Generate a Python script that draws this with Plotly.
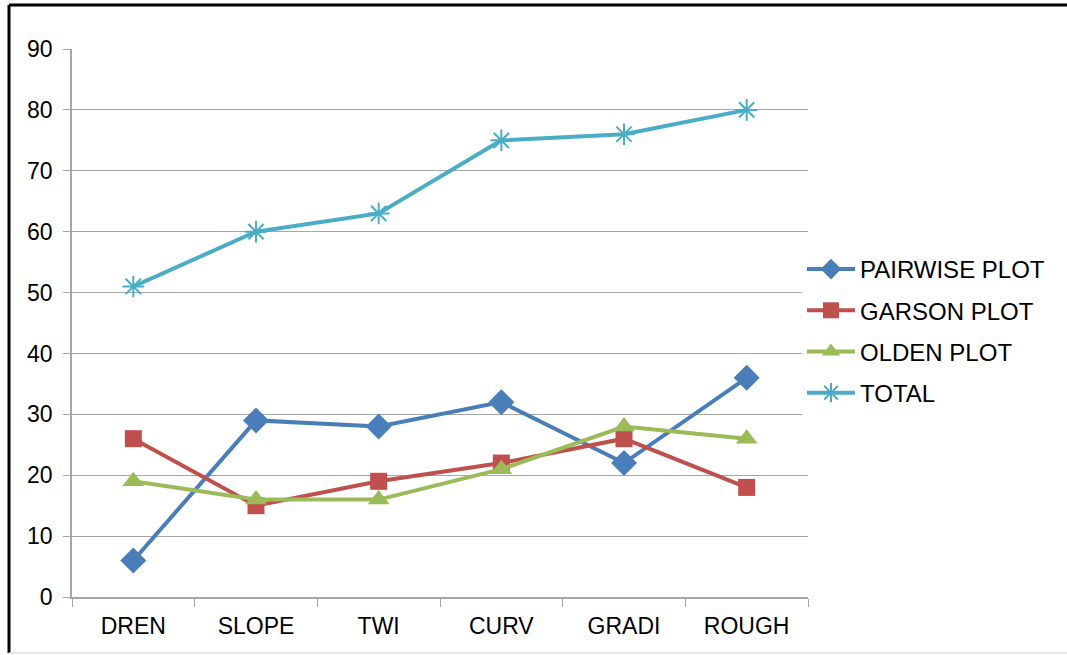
import plotly.graph_objects as go

# ---- data ----
categories = ["DREN", "SLOPE", "TWI", "CURV", "GRADI", "ROUGH"]
pairwise = [6, 29, 28, 32, 22, 36]
garson = [26, 15, 19, 22, 26, 18]
olden = [19, 16, 16, 21, 28, 26]
total = [51, 60, 63, 75, 76, 80]

series = [
    ("PAIRWISE PLOT", pairwise, "#4A7EBB", "diamond", 20),
    ("GARSON PLOT", garson, "#C0504D", "square", 17),
    ("OLDEN PLOT", olden, "#9BBB59", "triangle-up", 19),
    ("TOTAL", total, "#4BACC6", "asterisk-open", 18),
]

W, H = 1067, 655
L, R, T, B = 72, 808, 49, 597


def px2x(px):
    return (px - L) / (R - L)


def px2y(py):
    return (B - py) / (B - T)


fig = go.Figure()

for name, vals, color, symbol, size in series:
    marker = dict(symbol=symbol, size=size, color=color)
    if symbol == "asterisk-open":
        marker["line"] = dict(color=color, width=2)
    fig.add_trace(
        go.Scatter(
            x=categories,
            y=vals,
            mode="lines+markers",
            name=name,
            legendgroup=name,
            line=dict(color=color, width=4),
            marker=marker,
        )
    )

# ---- frame around the chart ----
shapes = [
    dict(type="line", xref="paper", yref="paper",
         x0=px2x(9), x1=px2x(W + 5), y0=px2y(5), y1=px2y(5),
         line=dict(color="black", width=3)),
    dict(type="line", xref="paper", yref="paper",
         x0=px2x(9), x1=px2x(9), y0=px2y(5), y1=px2y(653),
         line=dict(color="black", width=3)),
    dict(type="line", xref="paper", yref="paper",
         x0=px2x(9), x1=px2x(W + 5), y0=px2y(653), y1=px2y(653),
         line=dict(color="#DDDDDD", width=1.5)),
]

fig.update_layout(
    width=W,
    height=H,
    margin=dict(l=L, r=W - R, t=T, b=H - B),
    paper_bgcolor="white",
    plot_bgcolor="white",
    font=dict(family="Liberation Sans, Arial", size=23, color="black"),
    showlegend=True,
    legend=dict(
        x=px2x(802),
        xanchor="left",
        y=px2y(247),
        yanchor="top",
        tracegroupgap=7,
        font=dict(size=24),
        itemwidth=48,
    ),
    shapes=shapes,
    xaxis=dict(
        type="category",
        showgrid=False,
        showline=True,
        linecolor="#A6A6A6",
        linewidth=1.5,
        ticks="outside",
        tickson="boundaries",
        ticklen=8,
        tickcolor="#A6A6A6",
        ticklabelstandoff=8,
        range=[-0.5, 5.5],
    ),
    yaxis=dict(
        range=[0, 90],
        dtick=10,
        showgrid=True,
        gridcolor="#A6A6A6",
        gridwidth=1.2,
        showline=True,
        linecolor="#A6A6A6",
        linewidth=1.5,
        ticks="outside",
        ticklen=7,
        tickcolor="#A6A6A6",
        ticklabelstandoff=6,
        zeroline=False,
    ),
)

fig.write_html(
    "out.html",
    config={"displayModeBar": False},
    post_script="document.body.style.margin='0';",
)
